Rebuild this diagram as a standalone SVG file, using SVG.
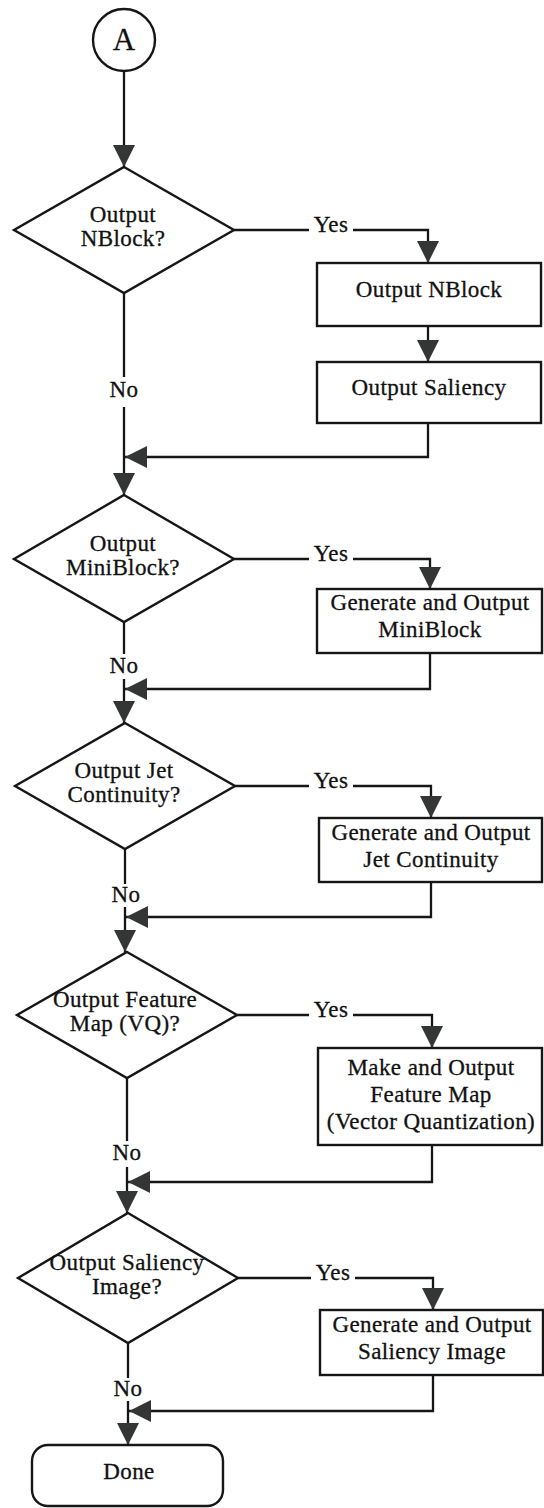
<svg xmlns="http://www.w3.org/2000/svg" width="544" height="1508" viewBox="0 0 544 1508">
  <style>
    .shape { fill: #ffffff; stroke: #161616; stroke-width: 2.4; }
    .wire { fill: none; stroke: #161616; stroke-width: 2.3; }
    .lbl { font-family: "Liberation Serif", "Times New Roman", serif; font-size: 23px; letter-spacing: 0.4px; fill: #111111; stroke: #111111; stroke-width: 0.3; text-anchor: middle; }
    .big { font-size: 31px; letter-spacing: 0; }
  </style>
  <defs>
    <marker id="ah" markerUnits="userSpaceOnUse" viewBox="0 0 22 22" refX="22" refY="11" markerWidth="22" markerHeight="22" orient="auto">
      <path d="M0,0 L22,11 L0,22 z" fill="#343636"/>
    </marker>
  </defs>
  <rect width="544" height="1508" fill="#ffffff"/>

  <!-- connectors -->
  <g id="connectors">
    <!-- start to first decision -->
    <path class="wire" d="M124,71 V167" marker-end="url(#ah)"/>
    <!-- section 1 -->
    <path class="wire" d="M234,230 H309 M353,230 H428 V263" marker-end="url(#ah)"/>
    <path class="wire" d="M428,326 V362" marker-end="url(#ah)"/>
    <path class="wire" d="M428,423 V457 H125" marker-end="url(#ah)"/>
    <path class="wire" d="M124,293 V377 M124,407 V495" marker-end="url(#ah)"/>
    <!-- section 2 -->
    <path class="wire" d="M234,559 H309 M353,559 H430 V589" marker-end="url(#ah)"/>
    <path class="wire" d="M430,653 V689 H125" marker-end="url(#ah)"/>
    <path class="wire" d="M124,622 V654 M124,679 V723" marker-end="url(#ah)"/>
    <!-- section 3 -->
    <path class="wire" d="M235,786 H309 M353,786 H431 V818" marker-end="url(#ah)"/>
    <path class="wire" d="M431,882 V917 H126" marker-end="url(#ah)"/>
    <path class="wire" d="M125,849 V884 M125,907 V952" marker-end="url(#ah)"/>
    <!-- section 4 -->
    <path class="wire" d="M237,1015 H309 M353,1015 H432 V1048" marker-end="url(#ah)"/>
    <path class="wire" d="M432,1145 V1182 H128" marker-end="url(#ah)"/>
    <path class="wire" d="M127,1078 V1141 M127,1167 V1213" marker-end="url(#ah)"/>
    <!-- section 5 -->
    <path class="wire" d="M238,1278 H311 M355,1278 H433 V1310" marker-end="url(#ah)"/>
    <path class="wire" d="M433,1375 V1411 H129" marker-end="url(#ah)"/>
    <path class="wire" d="M128,1343 V1378 M128,1401 V1445" marker-end="url(#ah)"/>

    <!-- branch labels -->
    <text class="lbl" x="331" y="232">Yes</text>
    <text class="lbl" x="124" y="397">No</text>
    <text class="lbl" x="331" y="561">Yes</text>
    <text class="lbl" x="124" y="673">No</text>
    <text class="lbl" x="331" y="788">Yes</text>
    <text class="lbl" x="126" y="902">No</text>
    <text class="lbl" x="331" y="1017">Yes</text>
    <text class="lbl" x="127" y="1160">No</text>
    <text class="lbl" x="333" y="1280">Yes</text>
    <text class="lbl" x="128" y="1396">No</text>
  </g>

  <!-- start connector -->
  <g id="start">
    <circle class="shape" cx="124" cy="40" r="31"/>
    <text class="lbl big" x="124" y="50">A</text>
  </g>

  <!-- section 1 -->
  <g id="q-nblock">
    <polygon class="shape" points="124,167 234,230 124,293 14,230"/>
    <text class="lbl" x="123" y="222">Output</text>
    <text class="lbl" x="123" y="246">NBlock?</text>
  </g>
  <g id="out-nblock">
    <rect class="shape" x="317" y="263" width="224" height="63"/>
    <text class="lbl" x="429" y="297">Output NBlock</text>
  </g>
  <g id="out-saliency">
    <rect class="shape" x="317" y="362" width="224" height="61"/>
    <text class="lbl" x="429" y="395">Output Saliency</text>
  </g>

  <!-- section 2 -->
  <g id="q-miniblock">
    <polygon class="shape" points="124,495 234,559 124,622 14,559"/>
    <text class="lbl" x="123" y="551">Output</text>
    <text class="lbl" x="123" y="575">MiniBlock?</text>
  </g>
  <g id="gen-miniblock">
    <rect class="shape" x="317" y="589" width="225" height="64"/>
    <text class="lbl" x="430" y="610">Generate and Output</text>
    <text class="lbl" x="430" y="637">MiniBlock</text>
  </g>

  <!-- section 3 -->
  <g id="q-jet">
    <polygon class="shape" points="125,723 235,786 125,849 15,786"/>
    <text class="lbl" x="124" y="778">Output Jet</text>
    <text class="lbl" x="124" y="802">Continuity?</text>
  </g>
  <g id="gen-jet">
    <rect class="shape" x="319" y="818" width="223" height="64"/>
    <text class="lbl" x="431" y="840">Generate and Output</text>
    <text class="lbl" x="431" y="867">Jet Continuity</text>
  </g>

  <!-- section 4 -->
  <g id="q-featuremap">
    <polygon class="shape" points="127,952 237,1015 127,1078 17,1015"/>
    <text class="lbl" x="125" y="1007">Output Feature</text>
    <text class="lbl" x="125" y="1031">Map (VQ)?</text>
  </g>
  <g id="make-featuremap">
    <rect class="shape" x="318" y="1048" width="224" height="97"/>
    <text class="lbl" x="431" y="1075">Make and Output</text>
    <text class="lbl" x="431" y="1102">Feature Map</text>
    <text class="lbl" x="431" y="1129">(Vector Quantization)</text>
  </g>

  <!-- section 5 -->
  <g id="q-saliency-image">
    <polygon class="shape" points="128,1213 238,1278 128,1343 18,1278"/>
    <text class="lbl" x="127" y="1270">Output Saliency</text>
    <text class="lbl" x="127" y="1294">Image?</text>
  </g>
  <g id="gen-saliency-image">
    <rect class="shape" x="320" y="1310" width="223" height="65"/>
    <text class="lbl" x="432" y="1332">Generate and Output</text>
    <text class="lbl" x="432" y="1359">Saliency Image</text>
  </g>

  <!-- end -->
  <g id="done">
    <rect class="shape" x="32" y="1445" width="191" height="61" rx="16" ry="16"/>
    <text class="lbl" x="129" y="1479">Done</text>
  </g>
</svg>
